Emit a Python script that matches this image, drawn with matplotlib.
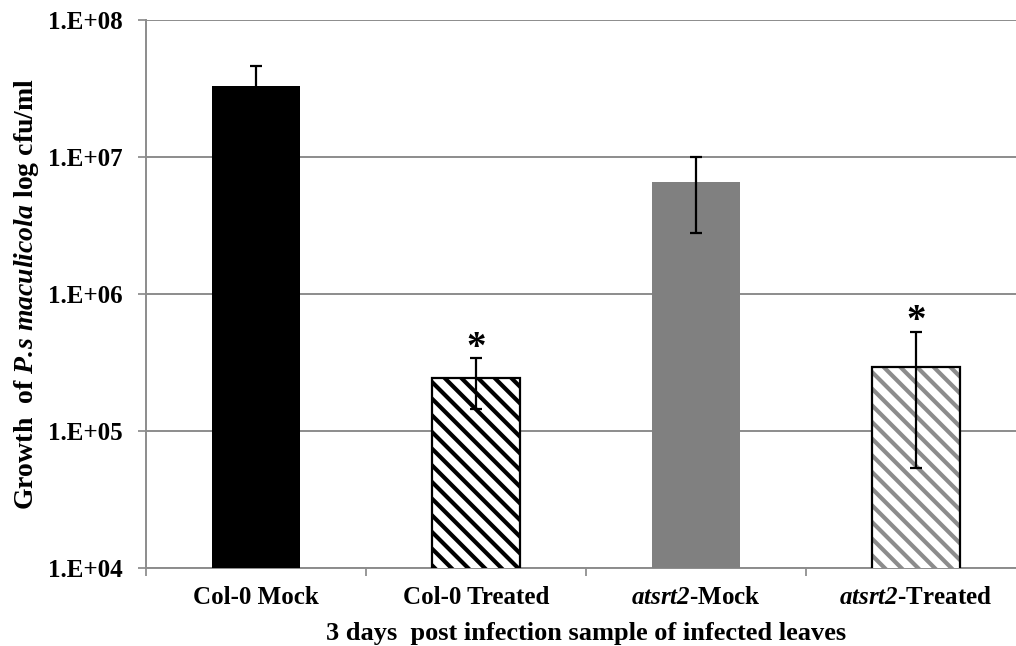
import numpy as np
import matplotlib
matplotlib.use("Agg")
import matplotlib.pyplot as plt
from matplotlib.ticker import FixedLocator, NullLocator

# values (cfu/ml, log axis)
groups = ["Col-0 Mock", "Col-0 Treated", r"$\mathbf{atsrt2}$-Mock", r"$\mathbf{atsrt2}$-Treated"]
means = [3.3e7, 2.45e5, 6.6e6, 2.95e5]
err_hi = [4.6e7, 3.4e5, 1.0e7, 5.3e5]
err_lo = [1.8e7, 1.45e5, 2.8e6, 5.4e4]
signif = [False, True, False, True]

fills = ["#000000", "white", "#808080", "white"]
hatches = [None, "\\\\", None, "\\\\"]
hatch_cols = [None, "#000000", None, "#8c8c8c"]

plt.rcParams["font.family"] = ["Liberation Serif", "DejaVu Serif"]
plt.rcParams["font.weight"] = "bold"
plt.rcParams["axes.labelweight"] = "bold"
plt.rcParams["mathtext.fontset"] = "custom"
plt.rcParams["mathtext.rm"] = "Liberation Serif:bold"
plt.rcParams["mathtext.it"] = "Liberation Serif:italic:bold"
# \mathbf used as bold italic so digits stay italic as well
plt.rcParams["mathtext.bf"] = "Liberation Serif:italic:bold"
plt.rcParams["hatch.linewidth"] = 3.0

fig = plt.figure(figsize=(10.16, 6.46), dpi=100)
ax = fig.add_axes([146 / 1016, 78 / 646, 880 / 1016, 548 / 646])

x = np.arange(len(groups))
w = 0.4
for i in range(len(groups)):
    if hatches[i]:
        ax.bar(x[i], means[i], w, color="white", edgecolor=hatch_cols[i],
               hatch=hatches[i], linewidth=0, zorder=3)
        ax.bar(x[i], means[i], w, fill=False, edgecolor="black",
               linewidth=1.6, zorder=4)
    else:
        ax.bar(x[i], means[i], w, color=fills[i], linewidth=0, zorder=3)

yerr = [np.array(means) - np.array(err_lo), np.array(err_hi) - np.array(means)]
ax.errorbar(x, means, yerr=yerr, fmt="none", ecolor="black", elinewidth=1.6,
            capsize=4.3, capthick=1.6, zorder=5)

for i in range(len(groups)):
    if signif[i]:
        ax.annotate("*", (x[i], err_hi[i]), xytext=(0, -6), textcoords="offset points",
                    ha="center", va="bottom", fontsize=28, fontweight="bold")

ax.set_yscale("log")
ax.set_ylim(1e4, 1e8)
ax.set_xlim(-0.5, 3.5)
ax.yaxis.set_major_locator(FixedLocator([1e4, 1e5, 1e6, 1e7, 1e8]))
ax.yaxis.set_minor_locator(NullLocator())
ax.set_yticklabels(["1.E+04", "1.E+05", "1.E+06", "1.E+07", "1.E+08"])

ax.set_xticks([-0.5, 0.5, 1.5, 2.5])
ax.set_xticklabels([])
ax.set_xticks(x, minor=True)
ax.set_xticklabels(groups, minor=True)
ax.tick_params(axis="x", which="major", length=6, width=1.2, color="#868686", direction="out")
ax.tick_params(axis="x", which="minor", length=0, pad=13, labelsize=18)
ax.tick_params(axis="y", length=6, width=1.2, color="#868686", labelsize=18, pad=11)

ax.grid(axis="y", color="#8c8c8c", linewidth=1.4, zorder=0)
for s in ["top", "right"]:
    ax.spines[s].set_visible(False)
for s in ["left", "bottom"]:
    ax.spines[s].set_color("#8c8c8c")
    ax.spines[s].set_linewidth(1.4)

ax.set_ylabel(r"Growth  of $\mathbf{P.\!s\ maculicola}$ log cfu/ml", fontsize=20, labelpad=5)
ax.set_xlabel("3 days  post infection sample of infected leaves", fontsize=19, labelpad=9)

fig.savefig("out.png", dpi=100)
